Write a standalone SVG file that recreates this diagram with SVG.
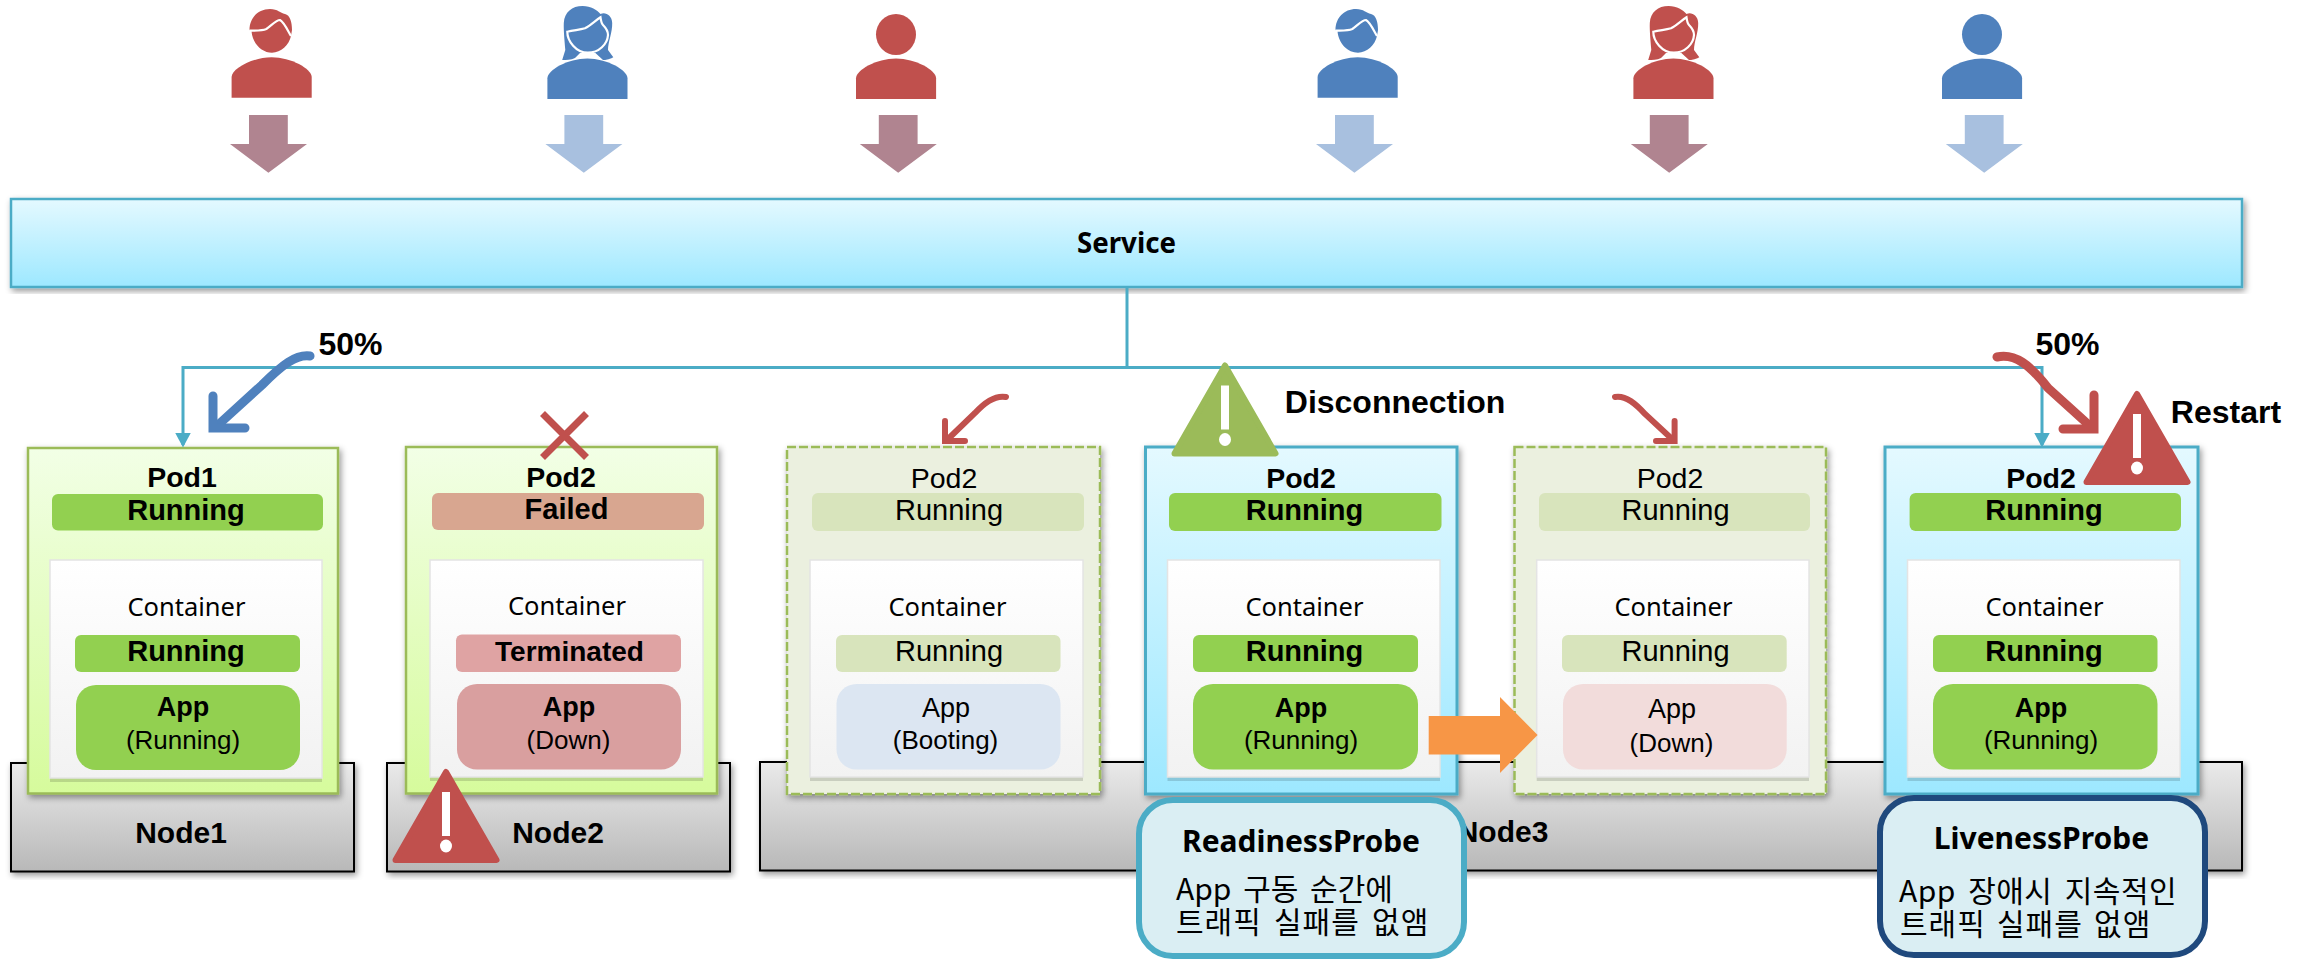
<svg xmlns="http://www.w3.org/2000/svg" width="2310" height="959" viewBox="0 0 2310 959">
<style>
text{font-family:"Liberation Sans",Arial,"Noto Sans CJK KR",sans-serif;fill:#000;text-anchor:middle}
.m{font-family:"Noto Sans","Noto Sans CJK KR",sans-serif}
.b{font-weight:700}
.t30{font-size:30px}.t29{font-size:29px}.t28{font-size:28.500px}.t27{font-size:27px}.t26{font-size:26px}.t32{font-size:32px}
.ko{font-family:"Noto Sans CJK KR","Noto Sans",sans-serif;font-size:30px;text-anchor:start}
.cont{font-family:"Noto Sans",sans-serif;font-size:25.500px}
.podG{fill:url(#gGreen);stroke:#9BBB59;stroke-width:2.500;filter:url(#sh)}
.podB{fill:url(#gBlue);stroke:#4BACC6;stroke-width:3;filter:url(#sh)}
.podF{fill:#EBF0DF;stroke:#9BBB59;stroke-width:2.500;stroke-dasharray:9 3;filter:url(#sh)}
.ctr{fill:url(#gCtr);stroke:#E4E4E4;stroke-width:1.500}
.ctrS{fill:#000;fill-opacity:.14}
.on{fill:#92D050}.failed{fill:#D8A690}.term{fill:#DFA3A3}.down{fill:#D99F9F}.fade{fill:#D8E4BC}.boot{fill:#DCE6F2}.dn{fill:#F2DCDB}
.node{fill:url(#gNode);stroke:#000;stroke-width:2;filter:url(#sh)}
.link{fill:none;stroke:#4BACC6;stroke-width:3}
.curveB{fill:none;stroke:#4F81BD;stroke-width:9;stroke-linecap:round}
.curveR{fill:none;stroke:#C0504D;stroke-width:9;stroke-linecap:round}
.curveS{fill:none;stroke:#C0504D;stroke-width:6;stroke-linecap:round}
.aR{fill:#B08490}.aB{fill:#A8C0DF}
.red{fill:#C0504D;stroke:#C0504D}.blue{fill:#4F81BD;stroke:none}.olive{fill:#9BBB59;stroke:#9BBB59}
.line{fill:none;stroke:#fff;stroke-width:2.200}
.probe{fill:#DAEEF3;stroke-width:6}
</style>
<defs>
<linearGradient id="gBlue" x1="0" y1="0" x2="0" y2="1"><stop offset="0" stop-color="#E4F9FF"/><stop offset="1" stop-color="#9DE8FF"/></linearGradient>
<linearGradient id="gGreen" x1="0" y1="0" x2="0" y2="1"><stop offset="0" stop-color="#F2FFE6"/><stop offset="1" stop-color="#D6FB9C"/></linearGradient>
<linearGradient id="gCtr" x1="0" y1="0" x2="0" y2="1"><stop offset="0" stop-color="#FFF"/><stop offset="1" stop-color="#F2F2F2"/></linearGradient>
<linearGradient id="gNode" x1="0" y1="0" x2="0" y2="1"><stop offset="0" stop-color="#EAEAEA"/><stop offset="1" stop-color="#B8B8B8"/></linearGradient>
<filter id="sh" x="-5%" y="-5%" width="112%" height="112%"><feDropShadow dx="2" dy="3" stdDeviation="3" flood-color="#000" flood-opacity=".4"/></filter>
<marker id="tip" markerUnits="userSpaceOnUse" markerWidth="15" markerHeight="16" refX="12.500" refY="8" orient="auto-start-reverse" viewBox="0 0 15 16"><path d="M0 0L15 8L0 16Z" fill="#4BACC6"/></marker>
<path id="body" d="M231.600 97.700V77C231.600 69 252 57.300 271.600 57.300C291 57.300 311.700 69 311.700 77V97.700Z" stroke="none"/>
<g id="man"><use href="#body"/><path d="M249.500 30C249.500 18 258 9 270 9C278 9 280 13 285 14C290 15 292 22 292 30L291 36C289 45 281 52.700 272 52.700C262 52.700 252.500 44 251.500 31Z" stroke="none"/><path class="line" d="M249.500 30.700C256 30.500 262 31 266.300 29C271 26 276 20 280 20C284 22 288 31 291 36"/></g>
<g id="woman"><use href="#body" x="315.800" y="1.300"/><path stroke="none" d="M562.200 60L565.300 50C564.500 40 563.500 30 563.800 23C564.500 12 572 6 582.600 6C591 6 597 10 600.500 14C605 11.500 612 15 612.200 23C612.500 32 608 42 608 50L613.300 57.300C608 60 606 60 603 60L595.400 53H580L575 58C571 60 566 60 562.200 60Z"/><path class="line" d="M567.300 31.700C574 30 579 30 585 28.300C591 25 596 20 600.500 17.300C601 21 602 24 603 25C607 29 608 31 608 35C607.500 44 599 52.700 587.800 52.700C576 52.700 567.300 41 567.300 31.700Z"/></g>
<g id="plain"><use href="#body" x="624.400" y="1.300"/><ellipse cx="896" cy="34.500" rx="20" ry="20.500" stroke="none"/></g>
<path id="dn" d="M249 115H287.800V144H307L268.400 172.700L230 144H249Z"/>
<g id="warn"><path d="M0 3L50.500 91H-50.500Z" stroke-width="6" stroke-linejoin="round"/><rect x="-4" y="23" width="8" height="44" fill="#fff" stroke="none"/><ellipse cy="77" rx="6" ry="6.500" fill="#fff" stroke="none"/></g>
</defs>

<g id="users">
<use href="#man" class="red"/>
<use href="#woman" class="blue"/>
<use href="#plain" class="red"/>
<use href="#man" class="blue" x="1086"/>
<use href="#woman" class="red" x="1086"/>
<use href="#plain" class="blue" x="1086"/>
<use href="#dn" class="aR"/>
<use href="#dn" class="aB" x="315.400"/>
<use href="#dn" class="aR" x="629.800"/>
<use href="#dn" class="aB" x="1086"/>
<use href="#dn" class="aR" x="1400.800"/>
<use href="#dn" class="aB" x="1715.800"/>
</g>

<g id="service">
<rect x="11" y="199" width="2231" height="88" fill="url(#gBlue)" stroke="#4BACC6" stroke-width="2.500" filter="url(#sh)"/>
<text x="1126.500" y="253" class="m b" font-size="27.700">Service</text>
</g>

<g id="node1"><rect class="node" x="11" y="763" width="343" height="108.500"/><text x="181" y="842.500" class="b t30">Node1</text></g>
<g id="node2"><rect class="node" x="387" y="763" width="343" height="108.500"/><text x="558" y="842.500" class="b t30">Node2</text></g>
<g id="node3"><rect class="node" x="760" y="762" width="1482" height="108.500"/><text x="1502.500" y="842" class="b t30">Node3</text></g>

<g id="pod1">
<rect class="podG" x="28" y="448" width="310" height="345.500"/>
<text x="182" y="487" class="b t28">Pod1</text>
<rect class="on" x="52" y="494" width="271" height="36.500" rx="6"/>
<text x="186" y="520" class="b t29">Running</text>
<rect class="ctrS" x="50" y="564" width="272" height="218"/><rect class="ctr" x="50" y="560" width="272" height="218"/>
<text x="186.500" y="616" class="cont">Container</text>
<rect class="on" x="75" y="635" width="225" height="37" rx="6"/>
<text x="186" y="661" class="b t29">Running</text>
<rect class="on" x="76" y="685" width="224" height="85" rx="20"/>
<text x="183" y="716" class="b t27">App</text>
<text x="183" y="749" class="t26">(Running)</text>
</g>

<g id="pod2-failed">
<rect class="podG" x="406" y="447" width="311" height="346.500"/>
<text x="561" y="486.500" class="b t28">Pod2</text>
<rect class="failed" x="432" y="493" width="272" height="37" rx="6"/>
<text x="566.500" y="519" class="b t29">Failed</text>
<rect class="ctrS" x="430" y="564" width="273" height="217"/><rect class="ctr" x="430" y="560" width="273" height="217"/>
<text x="567" y="615" class="cont">Container</text>
<rect class="term" x="456" y="634.500" width="225" height="37.500" rx="6"/>
<text x="569.500" y="660.700" class="b" font-size="28">Terminated</text>
<rect class="down" x="457" y="684" width="224" height="85.500" rx="20"/>
<text x="569" y="715.600" class="b t27">App</text>
<text x="568.500" y="749" class="t26">(Down)</text>
</g>

<g id="pod2-booting">
<rect class="podF" x="787" y="447" width="313" height="347"/>
<text x="944" y="488" class="t28">Pod2</text>
<rect class="fade" x="812" y="493" width="272" height="38" rx="6"/>
<text x="949" y="520" class="t29">Running</text>
<rect class="ctrS" x="810" y="564" width="273" height="217"/><rect class="ctr" x="810" y="560" width="273" height="217"/>
<text x="947.500" y="615.600" class="cont">Container</text>
<rect class="fade" x="836" y="635" width="224.500" height="37" rx="6"/>
<text x="949" y="661" class="t29">Running</text>
<rect class="boot" x="836.500" y="684" width="224" height="85.500" rx="20"/>
<text x="946" y="717" class="t27">App</text>
<text x="945.500" y="749" class="t26">(Booting)</text>
</g>

<g id="pod2-ready">
<rect class="podB" x="1145.500" y="447" width="311.500" height="347"/>
<text x="1301" y="488" class="b t28">Pod2</text>
<rect class="on" x="1169" y="493" width="272.500" height="38" rx="6"/>
<text x="1304.500" y="520" class="b t29">Running</text>
<rect class="ctrS" x="1167.500" y="564" width="272.500" height="217"/><rect class="ctr" x="1167.500" y="560" width="272.500" height="217"/>
<text x="1304.500" y="615.600" class="cont">Container</text>
<rect class="on" x="1193" y="635" width="225" height="37" rx="6"/>
<text x="1304.500" y="661" class="b t29">Running</text>
<rect class="on" x="1193" y="684" width="225" height="85.500" rx="20"/>
<text x="1301" y="717" class="b t27">App</text>
<text x="1301" y="749" class="t26">(Running)</text>
</g>

<g id="pod2-down">
<rect class="podF" x="1514.500" y="447" width="311.500" height="347"/>
<text x="1670" y="488" class="t28">Pod2</text>
<rect class="fade" x="1539" y="493" width="271" height="38" rx="6"/>
<text x="1675.500" y="520" class="t29">Running</text>
<rect class="ctrS" x="1536.700" y="564" width="272.300" height="217"/><rect class="ctr" x="1536.700" y="560" width="272.300" height="217"/>
<text x="1673.500" y="615.600" class="cont">Container</text>
<rect class="fade" x="1562" y="635" width="224.700" height="37" rx="6"/>
<text x="1675.500" y="661" class="t29">Running</text>
<rect class="dn" x="1563" y="684" width="223.700" height="85.500" rx="20"/>
<text x="1672" y="718" class="t27">App</text>
<text x="1671.500" y="752" class="t26">(Down)</text>
</g>

<g id="pod2-live">
<rect class="podB" x="1885" y="447" width="313" height="347"/>
<text x="2041" y="488" class="b t28">Pod2</text>
<rect class="on" x="1909.600" y="493" width="271.400" height="38" rx="6"/>
<text x="2044" y="520" class="b t29">Running</text>
<rect class="ctrS" x="1907.500" y="564" width="272.500" height="217"/><rect class="ctr" x="1907.500" y="560" width="272.500" height="217"/>
<text x="2044.500" y="615.600" class="cont">Container</text>
<rect class="on" x="1933" y="635" width="224.500" height="37" rx="6"/>
<text x="2044" y="661" class="b t29">Running</text>
<rect class="on" x="1933" y="684" width="224.500" height="85.500" rx="20"/>
<text x="2041" y="717" class="b t27">App</text>
<text x="2041" y="749" class="t26">(Running)</text>
</g>

<g id="readiness">
<rect class="probe" x="1139" y="800" width="325" height="156" rx="34" stroke="#4BACC6"/>
<text x="1301" y="852" class="m b t30">ReadinessProbe</text>
<text class="ko"><tspan x="1176" y="900" word-spacing="5">App 구동 순간에</tspan><tspan x="1176" y="933" letter-spacing="1" word-spacing="4.500">트래픽 실패를 없앰</tspan></text>
</g>
<g id="liveness">
<rect class="probe" x="1880" y="798" width="325" height="157" rx="34" stroke="#1F497D"/>
<text x="2041.500" y="849" class="m b t30">LivenessProbe</text>
<text class="ko"><tspan x="1899" y="902" letter-spacing=".5" word-spacing="5">App 장애시 지속적인</tspan><tspan x="1900" y="935" letter-spacing="1" word-spacing="3.500">트래픽 실패를 없앰</tspan></text>
</g>

<g id="connectors">
<path class="link" d="M1127 288V367.600"/>
<path class="link" d="M183 445V367.600H2042V445" marker-start="url(#tip)" marker-end="url(#tip)"/>
<path class="curveB" d="M310 356C296 354 282 365 262 385L218 425"/>
<path class="curveB" d="M213 396V428H245"/>
<path class="curveR" d="M1997 357C2015 353 2030 365 2048 388L2090 426"/>
<path class="curveR" d="M2094 395V429H2063"/>
<path class="curveS" d="M1006 397C995 395 985 402 975 413L947 440"/>
<path class="curveS" d="M945 421V441H965"/>
<path class="curveS" d="M1615 397C1626 395 1636 404 1645 414L1672 439"/>
<path class="curveS" d="M1674.600 421V441H1656"/>
<path d="M1428.700 716H1500V697L1537.600 735L1500 773V754.500H1428.700Z" fill="#F79646"/>
</g>

<g id="fail-x"><path d="M542.500 413.500L586.500 457.500M586.500 413.500L542.500 457.500" fill="none" stroke="#C0504D" stroke-width="7"/></g>
<use id="warn-node2" href="#warn" class="red" x="446" y="769"/>
<use id="warn-ready" href="#warn" class="olive" x="1225" y="362.500"/>
<use id="warn-live" href="#warn" class="red" x="2137" y="391"/>

<g id="labels">
<text x="350.500" y="354.500" class="b t32">50%</text>
<text x="2067.500" y="355" class="b t32">50%</text>
<text x="1395" y="413" class="b t32">Disconnection</text>
<text x="2226" y="423" class="b t32">Restart</text>
</g>
</svg>
